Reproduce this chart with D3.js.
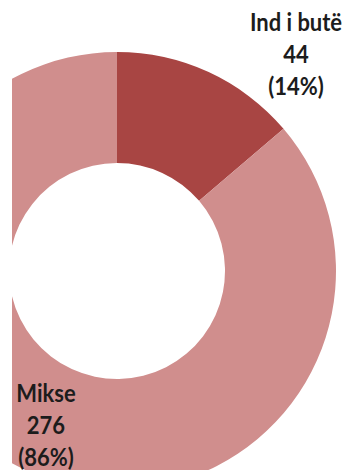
<!DOCTYPE html>
<html>
<head>
<meta charset="utf-8">
<script src="https://cdn.jsdelivr.net/npm/d3@7"></script>
<style>
  html, body { margin: 0; padding: 0; background: #fff; }
  svg { display: block; }
  text { font-family: Lato, "Open Sans", sans-serif; font-weight: 700; fill: #1c1c1c; }
</style>
</head>
<body>
<div id="chart"></div>
<script>
// Kategoritë dhe vlerat
const categories = ["Ind i butë", "Mikse"];
const counts = [44, 276];
const percents = ["14%", "86%"];
const colors = ["#a84543", "#d08e8d"];

const W = 354, H = 471;
const cx = 117, cy = 271;
const outerR = 219, innerR = 108;

const svg = d3.select("#chart").append("svg")
  .attr("width", W).attr("height", H);

svg.append("defs").append("clipPath").attr("id", "plotClip")
  .append("rect").attr("x", 12).attr("y", 0).attr("width", W - 12).attr("height", 470);

const pie = d3.pie().sort(null).value(d => d)(counts);
const arc = d3.arc().innerRadius(innerR).outerRadius(outerR);

svg.append("g")
  .attr("clip-path", "url(#plotClip)")
  .append("g")
  .attr("transform", `translate(${cx},${cy})`)
  .selectAll("path")
  .data(pie)
  .join("path")
  .attr("d", arc)
  .attr("fill", (d, i) => colors[i]);

// Etiketat e të dhënave
const labelPos = [
  { x: 296, y: 31 },
  { x: 46, y: 402 }
];
const lineGap = 32;
const stretch = 1.08;

categories.forEach((cat, i) => {
  const t = svg.append("text")
    .attr("text-anchor", "middle")
    .attr("font-size", 22)
    .attr("transform", `translate(${labelPos[i].x},${labelPos[i].y}) scale(1,${stretch})`);
  [cat, String(counts[i]), `(${percents[i]})`].forEach((s, k) => {
    t.append("tspan").attr("x", 0).attr("y", k * lineGap / stretch).text(s);
  });
});
</script>
</body>
</html>
